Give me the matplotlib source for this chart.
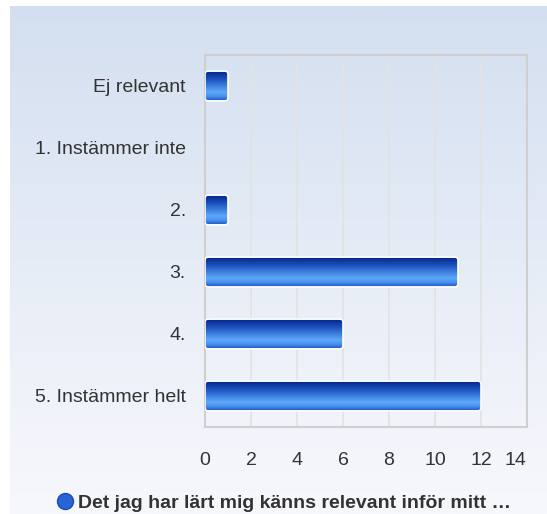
import numpy as np
import matplotlib
matplotlib.use("Agg")
import matplotlib.pyplot as plt
from matplotlib.patches import FancyBboxPatch
from matplotlib.colors import LinearSegmentedColormap
from matplotlib.lines import Line2D
import matplotlib.transforms as mtransforms

plt.rcParams['font.family'] = ['Liberation Sans', 'DejaVu Sans']

categories = ["Ej relevant", "1. Instämmer inte", "2.", "3.", "4.", "5. Instämmer helt"]
values = [1, 0, 1, 11, 6, 12]
xticks = [0, 2, 4, 6, 8, 10, 12, 14]
series_name = "Det jag har lärt mig känns relevant inför mitt …"

W, H = 547, 514
fig = plt.figure(figsize=(W / 100, H / 100), dpi=100)

# background gradient
bg = fig.add_axes([0, 0, 1, 1], zorder=-10)
bg.set_axis_off()
bgcmap = LinearSegmentedColormap.from_list("bg", ["#d3dff0", "#e6ecf6", "#f7f8fc"])
grad = np.linspace(0, 1, 256).reshape(-1, 1)
bg.imshow(grad, cmap=bgcmap, aspect='auto', extent=[10 / W, 1, 0, 1 - 6 / H],
          transform=bg.transAxes)
bg.set_xlim(0, 1)
bg.set_ylim(0, 1)

left, right, top, bottom = 205, 527, 55, 427
ax = fig.add_axes([left / W, 1 - bottom / H, (right - left) / W, (bottom - top) / H])
ax.patch.set_alpha(0)

y = np.arange(len(categories))
bar_h = 0.48
bars = ax.barh(y, values, height=bar_h, color='none', edgecolor='none')
ax.set_xlim(0, 14)
ax.set_ylim(len(categories) - 0.5, -0.5)

barcmap = LinearSegmentedColormap.from_list(
    "bar", [(0.0, "#03248a"), (0.3, "#1f57c2"), (0.7, "#5ca8fa"), (0.85, "#4a90ec"), (1.0, "#1a55c6")])
vgrad = np.linspace(0, 1, 64).reshape(-1, 1)
for b in bars:
    w = b.get_width()
    if w <= 0:
        continue
    x0, y0, h = b.get_x(), b.get_y(), b.get_height()
    patch = FancyBboxPatch((x0, y0), w, h,
                           boxstyle="round,pad=0,rounding_size=0.14",
                           mutation_aspect=0.37,
                           facecolor='none', edgecolor='white', linewidth=1.2, zorder=4)
    ax.add_patch(patch)
    im = ax.imshow(vgrad, cmap=barcmap, aspect='auto',
                   extent=[x0, x0 + w, y0 + h, y0], zorder=3, interpolation='bilinear')
    im.set_clip_path(patch)

ax.set_xlim(0, 14)
ax.set_ylim(len(categories) - 0.5, -0.5)
ax.set_aspect('auto')

ax.set_yticks(y)
ax.set_yticklabels(categories)
ax.set_xticks(xticks)
ax.set_xticklabels([str(t) for t in xticks])
ax.tick_params(axis='both', length=0, labelsize=14, colors='#333333')
ax.tick_params(axis='y', pad=13.8)
ax.tick_params(axis='x', pad=18)
# shift last tick label left
lbls = ax.get_xticklabels()
offset = mtransforms.ScaledTranslation(-12 / 100, 0, fig.dpi_scale_trans)
lbls[-1].set_transform(lbls[-1].get_transform() + offset)

ax.grid(axis='x', color='#e2e2e2', linewidth=1.2, zorder=0)
ax.set_axisbelow(True)
for s in ax.spines.values():
    s.set_color('#cfcfcf')
    s.set_linewidth(1.5)

handle = Line2D([], [], marker='o', linestyle='none', markersize=11.5,
                markerfacecolor='#2a64d4', markeredgecolor='#1a4cb4')
fig.legend([handle], [series_name], loc='center', bbox_to_anchor=(0.518, 1 - 503 / H),
           frameon=False, handletextpad=0.15, handlelength=1.0,
           prop={'weight': 'bold', 'size': 14}, labelcolor='#333333')

fig.savefig("out.png", dpi=100)
